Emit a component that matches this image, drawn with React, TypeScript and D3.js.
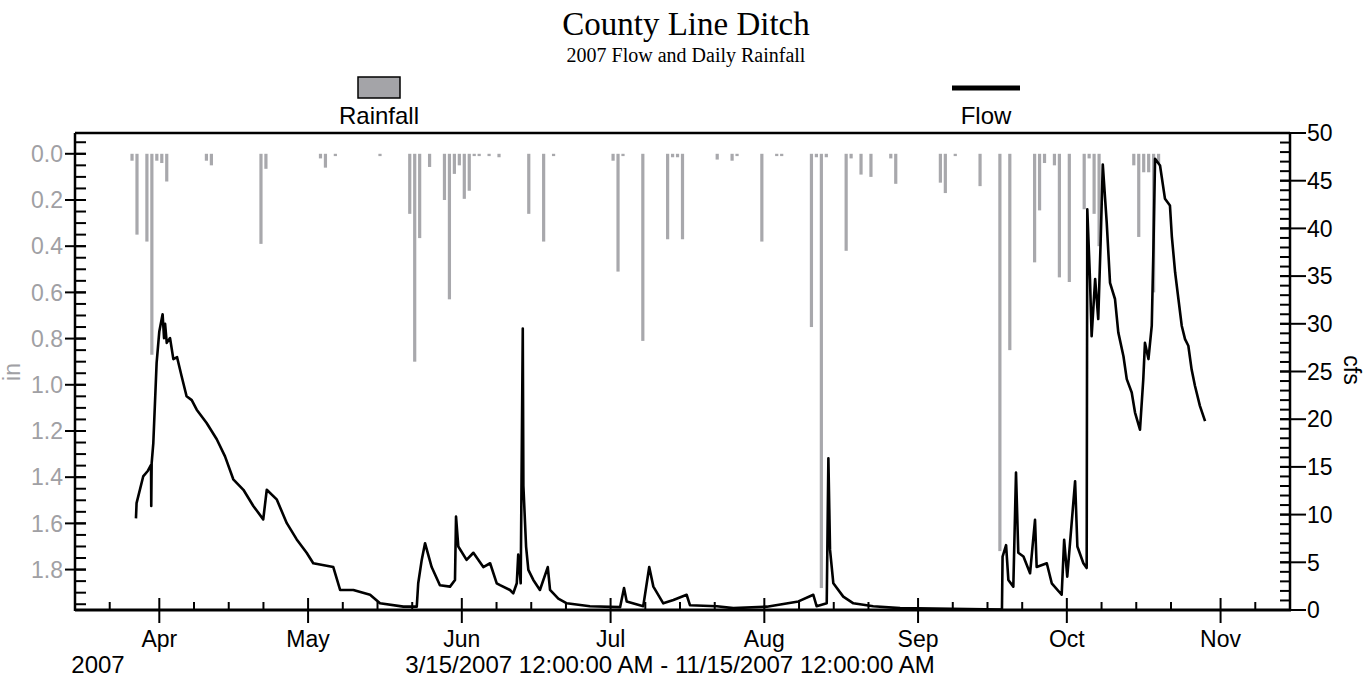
import React from "react";
import * as d3 from "d3";

// ---------- DATA ----------
const rainDates = [
  "2007-03-26","2007-03-27","2007-03-29","2007-03-30","2007-03-31","2007-04-01","2007-04-02",
  "2007-04-10","2007-04-11","2007-04-21","2007-04-22","2007-05-03","2007-05-04","2007-05-06",
  "2007-05-15","2007-05-21","2007-05-22","2007-05-23","2007-05-25","2007-05-28","2007-05-29",
  "2007-05-30","2007-05-31","2007-06-01","2007-06-02","2007-06-03","2007-06-04","2007-06-06",
  "2007-06-08","2007-06-14","2007-06-17","2007-06-19","2007-07-01","2007-07-02","2007-07-03",
  "2007-07-07","2007-07-12","2007-07-13","2007-07-14","2007-07-15","2007-07-22","2007-07-25",
  "2007-07-26","2007-07-31","2007-08-03","2007-08-04","2007-08-10","2007-08-11","2007-08-12",
  "2007-08-13","2007-08-17","2007-08-18","2007-08-20","2007-08-22","2007-08-26","2007-08-27",
  "2007-09-05","2007-09-06","2007-09-08","2007-09-13","2007-09-17","2007-09-19","2007-09-24",
  "2007-09-25","2007-09-26","2007-09-28","2007-09-29","2007-10-01","2007-10-04","2007-10-05",
  "2007-10-06","2007-10-07","2007-10-14","2007-10-15","2007-10-16","2007-10-17","2007-10-18",
  "2007-10-19",
];
const rainInches = [
  0.03,0.35,0.38,0.87,0.03,0.04,0.12,
  0.03,0.05,0.39,0.065,0.02,0.06,0.01,
  0.01,0.26,0.90,0.365,0.057,0.20,0.63,
  0.087,0.05,0.195,0.16,0.01,0.01,0.01,
  0.015,0.26,0.38,0.01,0.03,0.51,0.01,
  0.81,0.37,0.015,0.015,0.37,0.025,0.03,
  0.01,0.38,0.01,0.01,0.75,0.015,1.88,
  0.015,0.42,0.02,0.09,0.10,0.02,0.13,
  0.125,0.17,0.01,0.14,1.72,0.85,0.47,
  0.245,0.04,0.05,0.535,0.555,0.24,0.02,
  0.26,0.40,0.05,0.36,0.08,0.08,0.60,
  0.04,
];

const flowTimes = [
  "2007-03-27 07","2007-03-27 10","2007-03-28 18","2007-03-29 17","2007-03-30 08","2007-03-30 09",
  "2007-03-30 11","2007-03-30 19","2007-03-31 11","2007-04-01 00","2007-04-01 16","2007-04-01 23",
  "2007-04-02 04","2007-04-02 12","2007-04-03 04","2007-04-03 20","2007-04-04 14","2007-04-05 12",
  "2007-04-06 12","2007-04-07 13","2007-04-08 13","2007-04-10 13","2007-04-12 14","2007-04-14 06",
  "2007-04-15 22","2007-04-17 23","2007-04-19 23","2007-04-21 23","2007-04-22 16","2007-04-24 16",
  "2007-04-26 17","2007-04-28 17","2007-04-30 17","2007-05-02 01","2007-05-06 02","2007-05-07 11",
  "2007-05-10 03","2007-05-13 12","2007-05-15 12","2007-05-20 05","2007-05-22 22","2007-05-23 05",
  "2007-05-23 22","2007-05-24 14","2007-05-25 22","2007-05-27 14","2007-05-29 15","2007-05-30 15",
  "2007-05-30 20","2007-05-31 07","2007-06-01 23","2007-06-03 08","2007-06-05 08","2007-06-06 17",
  "2007-06-08 01","2007-06-08 17","2007-06-10 17","2007-06-11 09","2007-06-12 02","2007-06-12 09",
  "2007-06-12 21","2007-06-13 07","2007-06-13 10","2007-06-13 23","2007-06-14 10","2007-06-15 10",
  "2007-06-16 18","2007-06-18 08","2007-06-18 19","2007-06-20 11","2007-06-22 04","2007-06-26 20",
  "2007-07-02 22","2007-07-03 17","2007-07-04 06","2007-07-07 14","2007-07-08 19","2007-07-09 15",
  "2007-07-11 15","2007-07-13 16","2007-07-16 08","2007-07-17 00","2007-07-22 10","2007-07-25 18",
  "2007-08-01 12","2007-08-07 21","2007-08-10 21","2007-08-11 13","2007-08-13 14","2007-08-13 22",
  "2007-08-14 06","2007-08-14 22","2007-08-16 22","2007-08-18 23","2007-08-22 23","2007-08-28 09",
  "2007-09-17 22","2007-09-18 01","2007-09-18 18","2007-09-19 05","2007-09-20 05","2007-09-20 18",
  "2007-09-21 05","2007-09-22 06","2007-09-23 14","2007-09-24 14","2007-09-24 22","2007-09-26 23",
  "2007-09-27 23","2007-09-29 23","2007-09-30 11","2007-10-01 02","2007-10-02 16","2007-10-03 03",
  "2007-10-04 08","2007-10-05 00","2007-10-05 03","2007-10-05 16","2007-10-06 00","2007-10-06 17",
  "2007-10-07 08","2007-10-07 20","2007-10-08 06","2007-10-09 01","2007-10-09 17","2007-10-10 17",
  "2007-10-11 09","2007-10-12 10","2007-10-13 02","2007-10-14 02","2007-10-14 18","2007-10-15 18",
  "2007-10-16 10","2007-10-16 18","2007-10-17 11","2007-10-18 03","2007-10-18 11","2007-10-18 19",
  "2007-10-19 19","2007-10-20 19","2007-10-21 19","2007-10-22 04","2007-10-22 20","2007-10-23 12",
  "2007-10-24 04","2007-10-24 20","2007-10-25 12","2007-10-26 04","2007-10-26 20","2007-10-27 20",
  "2007-10-28 21",
];
const flowCfs = [
  9.6,11.2,14.0,14.6,15.2,10.9,
  15.4,17.5,25.9,29.2,31.0,28.5,
  30.0,28.0,28.5,26.3,26.5,24.5,
  22.4,22.0,21.0,19.6,17.9,16.1,
  13.7,12.6,10.9,9.5,12.6,11.6,
  9.1,7.4,6.0,4.9,4.5,2.1,
  2.1,1.6,0.7,0.35,0.35,2.8,
  5.25,7.0,4.5,2.6,2.45,3.15,
  9.8,6.65,5.25,6.0,4.5,4.9,
  2.8,2.6,2.1,1.75,2.8,5.8,
  2.8,29.5,13.0,6.65,4.2,3.15,
  2.1,4.5,2.1,1.2,0.7,0.4,
  0.3,2.3,0.9,0.4,4.5,2.45,
  0.7,1.05,1.6,0.5,0.4,0.2,
  0.35,0.9,1.6,0.4,0.7,15.9,
  6.3,2.8,1.4,0.7,0.4,0.2,
  0.05,5.6,6.8,3.15,2.45,14.4,
  6.0,5.6,3.85,9.45,4.5,4.9,
  2.8,1.6,7.35,3.5,13.5,6.65,
  4.9,4.4,42.0,34.7,28.7,34.7,
  30.5,38.9,46.7,40.6,34.3,32.6,
  29.1,26.6,24.2,22.8,20.7,18.9,
  24.2,28.0,26.3,29.8,37.8,47.3,
  46.6,43.1,42.4,39.2,35.4,32.6,
  29.8,28.4,27.7,25.2,23.5,21.4,
  19.8,
];

const rainTicks = [0, 0.2, 0.4, 0.6, 0.8, 1.0, 1.2, 1.4, 1.6, 1.8];
const flowTicks = [0, 5, 10, 15, 20, 25, 30, 35, 40, 45, 50];

const title = "County Line Ditch";
const subtitle = "2007 Flow and Daily Rainfall";
const rangeLabel = "3/15/2007 12:00:00 AM - 11/15/2007 12:00:00 AM";

// ---------- LAYOUT ----------
const W = 1372, H = 679;
const L = 75, R = 1290, T = 133, B = 610;
const SANS = "'Liberation Sans', Arial, sans-serif";
const SERIF = "'Liberation Serif', 'Times New Roman', serif";
const GRAY = "#a0a0a4";
const BAR = "#a8a8ac";
const FS = 23;

export default function App() {
  const parseDay = d3.timeParse("%Y-%m-%d");
  const parseHour = d3.timeParse("%Y-%m-%d %H");
  const x = d3.scaleTime().domain([new Date(2007, 2, 15), new Date(2007, 10, 15)]).range([L, R]);
  const yRain = d3.scaleLinear().domain([-0.09, 1.975]).range([T, B]);
  const yFlow = d3.scaleLinear().domain([0, 50]).range([B, T]);

  const rain = rainDates.map((d, i) => ({ date: parseDay(d) as Date, v: rainInches[i] }));
  const flow = flowTimes.map((d, i) => ({ date: parseHour(d) as Date, v: flowCfs[i] }));

  const line = d3.line<{ date: Date; v: number }>().x((d) => x(d.date)).y((d) => yFlow(d.v));

  const months = d3.timeMonth.range(new Date(2007, 3, 1), new Date(2007, 10, 2));
  const minorDays = d3.timeDay
    .range(new Date(2007, 2, 16), new Date(2007, 10, 15))
    .filter((d) => [8, 15, 22].includes(d.getDate()));
  const monthFmt = d3.timeFormat("%b");

  const rainMinor = d3.range(-1, 40).map((i) => i * 0.05).filter((v) => v > -0.06 && v < 1.97);
  const flowMinor = d3.range(1, 50);

  return (
    <svg width={W} height={H} style={{ position: "absolute", left: 0, top: 0, background: "#fff" }}>
      {/* titles */}
      <text x={686} y={35} textAnchor="middle" fontFamily={SERIF} fontSize={33}>{title}</text>
      <text x={686} y={62} textAnchor="middle" fontFamily={SERIF} fontSize={20}>{subtitle}</text>

      {/* legend */}
      <rect x={358} y={77} width={42} height={21} fill="#a4a4a8" stroke="#000" strokeWidth={1.5} />
      <text x={379} y={124} textAnchor="middle" fontFamily={SANS} fontSize={24}>Rainfall</text>
      <line x1={952} x2={1020} y1={88} y2={88} stroke="#000" strokeWidth={5} />
      <text x={986} y={124} textAnchor="middle" fontFamily={SANS} fontSize={24}>Flow</text>

      {/* rainfall bars */}
      {rain.map((d, i) => {
        const cx = x(d3.timeHour.offset(d.date, 12));
        const y0 = yRain(0);
        const y1 = yRain(d.v);
        return <rect key={i} x={cx - 1.6} y={y0} width={3.2} height={Math.max(2, y1 - y0)} fill={BAR} />;
      })}

      {/* flow line */}
      <path d={line(flow) || ""} fill="none" stroke="#000" strokeWidth={2.6} strokeLinejoin="round" />

      {/* frame */}
      <line x1={L} x2={R} y1={T} y2={T} stroke="#000" strokeWidth={2.5} />
      <line x1={L} x2={R + 1} y1={B} y2={B} stroke="#000" strokeWidth={3} />
      <line x1={L} x2={L} y1={T} y2={B + 1} stroke="#000" strokeWidth={2.5} />
      <line x1={R} x2={R} y1={T} y2={B + 1} stroke="#000" strokeWidth={2.5} />

      {/* left axis */}
      {rainMinor.map((v, i) => (
        <line key={"lm" + i} x1={L} x2={L + 11} y1={yRain(v)} y2={yRain(v)} stroke="#000" strokeWidth={2} />
      ))}
      {rainTicks.map((v) => (
        <g key={"l" + v}>
          <line x1={L - 10} x2={L + 11} y1={yRain(v)} y2={yRain(v)} stroke="#000" strokeWidth={2} />
          <text x={L - 12} y={yRain(v)} dy="0.36em" textAnchor="end" fontFamily={SANS} fontSize={FS} fill={GRAY}>
            {v.toFixed(1)}
          </text>
        </g>
      ))}
      <text transform={`translate(20,372) rotate(-90)`} textAnchor="middle" fontFamily={SANS} fontSize={FS} fill={GRAY}>in</text>

      {/* right axis */}
      {flowMinor.map((v) => (
        <line key={"rm" + v} x1={R - 10} x2={R} y1={yFlow(v)} y2={yFlow(v)} stroke="#000" strokeWidth={2} />
      ))}
      {flowTicks.map((v) => (
        <g key={"r" + v}>
          <line x1={R - 10} x2={R + 16} y1={yFlow(v)} y2={yFlow(v)} stroke="#000" strokeWidth={2} />
          <text x={R + 17} y={yFlow(v)} dy="0.36em" textAnchor="start" fontFamily={SANS} fontSize={FS}>{v}</text>
        </g>
      ))}
      <text transform={`translate(1344,370) rotate(90)`} textAnchor="middle" fontFamily={SANS} fontSize={FS}>cfs</text>

      {/* bottom axis */}
      {minorDays.map((d, i) => (
        <line key={"bm" + i} x1={x(d)} x2={x(d)} y1={B - 8} y2={B} stroke="#000" strokeWidth={2} />
      ))}
      {months.map((d, i) => (
        <g key={"b" + i}>
          <line x1={x(d)} x2={x(d)} y1={B - 12} y2={B + 13} stroke="#000" strokeWidth={2} />
          <text x={x(d)} y={647} textAnchor="middle" fontFamily={SANS} fontSize={FS}>{monthFmt(d)}</text>
        </g>
      ))}
      <text x={98} y={673} textAnchor="middle" fontFamily={SANS} fontSize={24}>2007</text>
      <text x={670} y={673} textAnchor="middle" fontFamily={SANS} fontSize={24}>{rangeLabel}</text>
    </svg>
  );
}
